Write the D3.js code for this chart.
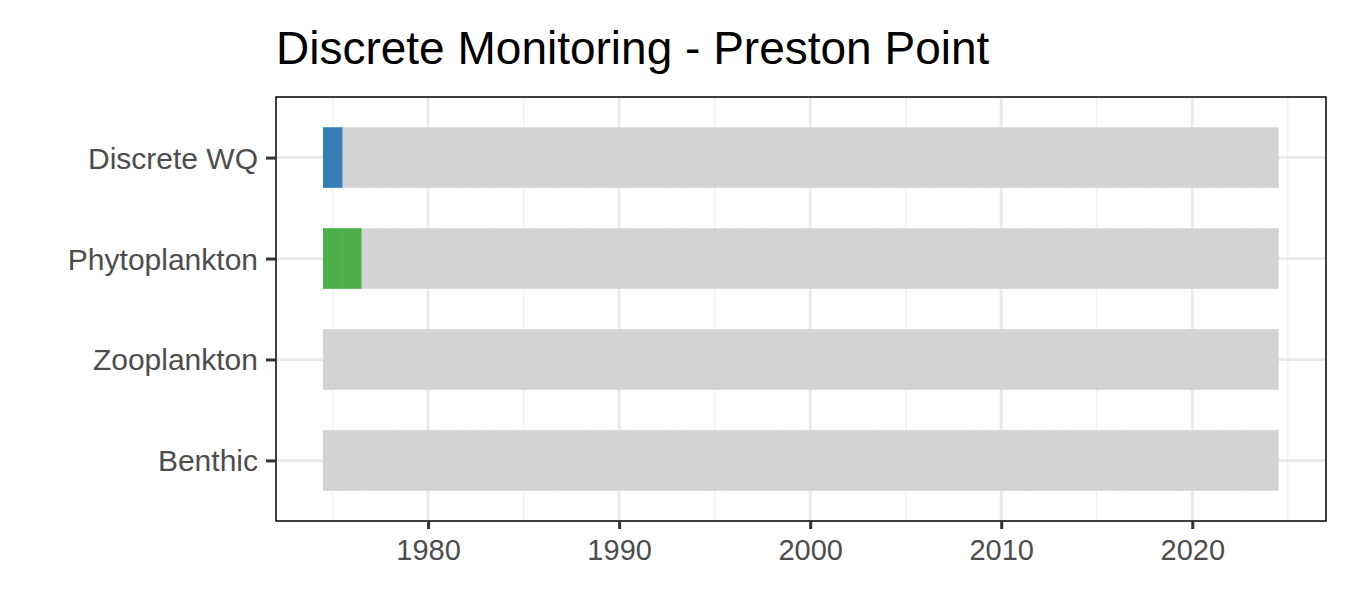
<!DOCTYPE html>
<html><head><meta charset="utf-8">
<script src="https://cdn.jsdelivr.net/npm/d3@7"></script>
<style>body{margin:0;background:#fff;font-family:Arial,"Liberation Sans",sans-serif;}</style>
</head><body>
<script>
const categories = ["Discrete WQ", "Phytoplankton", "Zooplankton", "Benthic"];
const allYears = d3.range(1975, 2025);
const sampled = [
  { cat: "Discrete WQ", years: [1975], color: "#377eb8" },
  { cat: "Phytoplankton", years: [1975, 1976], color: "#4daf4a" },
  { cat: "Zooplankton", years: [], color: "#999" },
  { cat: "Benthic", years: [], color: "#999" }
];
const xTicks = [1980, 1990, 2000, 2010, 2020];
const xMinor = [1975, 1985, 1995, 2005, 2015, 2025];

const width = 1350, height = 600;
const margin = { top: 97, right: 24, bottom: 79, left: 276 };
const iw = width - margin.left - margin.right, ih = height - margin.top - margin.bottom;

const svg = d3.select("body").append("svg").attr("width", width).attr("height", height);
const g = svg.append("g").attr("transform", "translate(" + margin.left + "," + margin.top + ")");

const x = d3.scaleLinear().domain([1972.04, 2027.0]).range([0, iw]);
const unit = ih / 4.2;
const y = d3.scalePoint().domain(categories).range([0.6 * unit, ih - 0.6 * unit]);
const bh = 0.6 * unit;

g.selectAll(".minor").data(xMinor).enter().append("line")
  .attr("x1", d => x(d)).attr("x2", d => x(d)).attr("y1", 0).attr("y2", ih)
  .attr("stroke", "#f2f2f2").attr("stroke-width", 1.5);
g.selectAll(".major").data(xTicks).enter().append("line")
  .attr("x1", d => x(d)).attr("x2", d => x(d)).attr("y1", 0).attr("y2", ih)
  .attr("stroke", "#ebebeb").attr("stroke-width", 3);
g.selectAll(".hgrid").data(categories).enter().append("line")
  .attr("x1", 0).attr("x2", iw).attr("y1", d => y(d)).attr("y2", d => y(d))
  .attr("stroke", "#ebebeb").attr("stroke-width", 3);

categories.forEach(c => {
  g.selectAll(null).data(allYears).enter().append("rect")
    .attr("x", d => x(d - 0.5)).attr("width", x(1) - x(0) + 0.5)
    .attr("y", y(c) - bh / 2).attr("height", bh).attr("fill", "#d3d3d3");
});
sampled.forEach(s => {
  g.selectAll(null).data(s.years).enter().append("rect")
    .attr("x", d => x(d - 0.5)).attr("width", x(1) - x(0) + 0.3)
    .attr("y", y(s.cat) - bh / 2).attr("height", bh).attr("fill", s.color);
});

g.append("rect").attr("width", iw).attr("height", ih).attr("fill", "none").attr("stroke", "#000").attr("stroke-width", 1.5);

const xa = g.append("g").attr("transform", "translate(0," + ih + ")")
  .call(d3.axisBottom(x).tickValues(xTicks).tickFormat(d3.format("d")).tickSize(8).tickPadding(6));
const ya = g.append("g").call(d3.axisLeft(y).tickSize(10).tickPadding(8));
[xa, ya].forEach(a => {
  a.select(".domain").remove();
  a.selectAll("line").attr("stroke", "#333").attr("stroke-width", 3);
  a.selectAll("text").attr("fill", "#4d4d4d").style("font-size", "29px").style("font-family", "Arial,'Liberation Sans',sans-serif");
});
xa.selectAll("text").style("font-size", "29px").attr("dy", "0.85em");
ya.selectAll("text").attr("dy", "0.35em");
ya.selectAll("text").style("font-size", "30px").attr("textLength", null);

// widen glyphs horizontally to match the reference face
ya.selectAll("text").attr("transform", "scale(1.0,1)");

svg.append("text").attr("x", 276).attr("y", 64).text("Discrete Monitoring - Preston Point")
  .style("font-size", "46px").attr("fill", "#000");
</script>
</body></html>
